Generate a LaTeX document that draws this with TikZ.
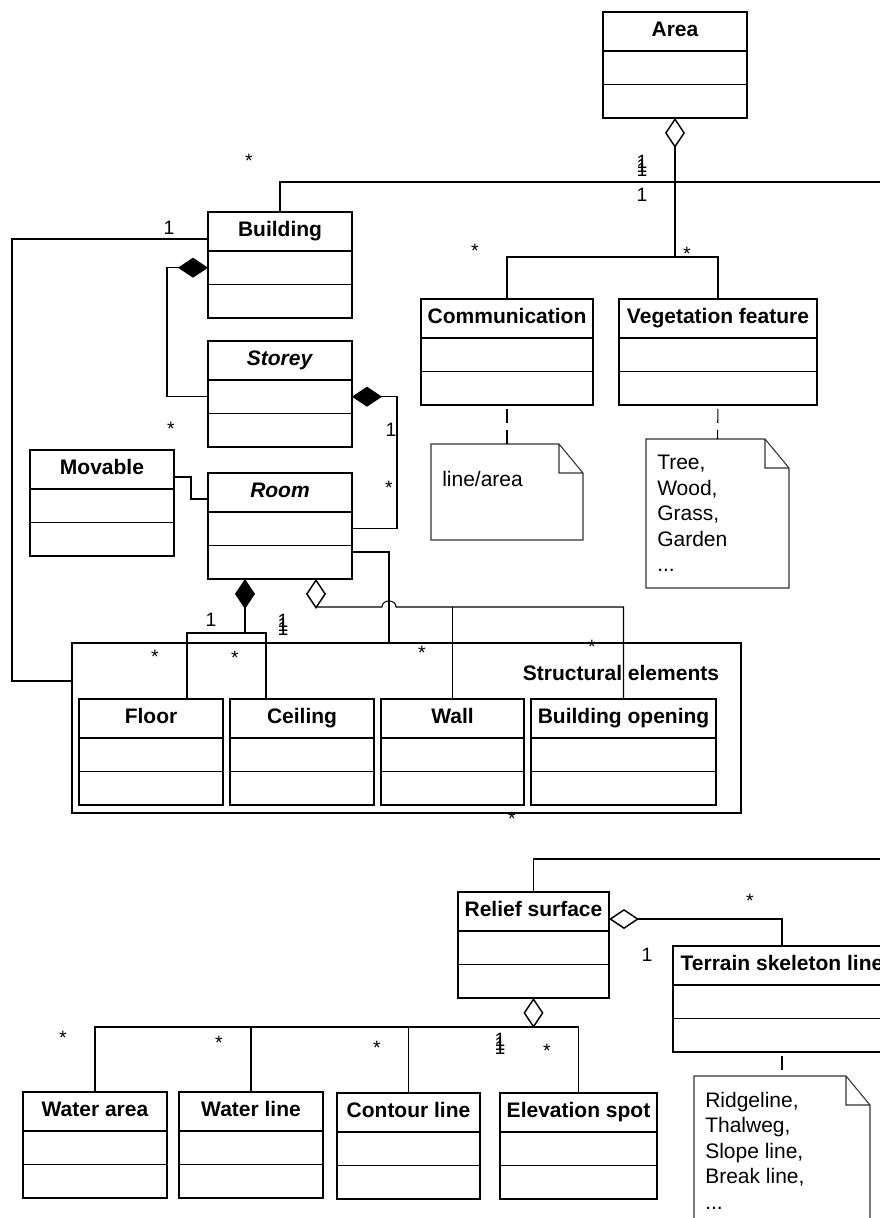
\documentclass[tikz,border=0pt]{standalone}
\usepackage{fontspec}
\setmainfont{Liberation Sans}
\usetikzlibrary{positioning, arrows.meta}

\newcommand{\titlefont}{\fontsize{15.75}{19}\selectfont\bfseries}
\newcommand{\notefont}{\fontsize{15.75}{19.1}\selectfont}
\newcommand{\multfont}{\fontsize{14.5}{17}\selectfont}
% overprinted multiplicity
\newcommand{\manyones}{\rlap{1}\raisebox{3pt}{\rlap{1}}\raisebox{6pt}{1}}

\tikzset{
  clshead/.style={draw, line width=1.4pt, inner sep=0pt, outer sep=0pt,
    minimum height=29.25pt, text height=11.5pt, text depth=3.3pt, font=\titlefont},
  clspart/.style={draw, line width=1.4pt, inner sep=0pt, outer sep=0pt, minimum height=25.1pt},
  pkgbox/.style={draw, line width=1.4pt, inner sep=0pt, outer sep=0pt},
  conn/.style={line width=0.8pt},
  agg/.style={conn, {Diamond[open, length=22.5pt, width=15pt, line width=1.1pt]}-},
  comp/.style={conn, {Diamond[length=22.5pt, width=15pt]}-},
  notelink/.style={conn, dash pattern=on 10.5pt off 5.25pt, dash phase=12.75pt},
  notebody/.style={inner sep=0pt, outer sep=0pt},
  noteline/.style={line width=0.8pt, black!80},
  notetext/.style={inner sep=0pt, align=left, font=\notefont, anchor=north west},
  mult/.style={inner sep=0pt, font=\multfont},
}

% class box: name, top-left corner, width (px), title
\newcommand{\umlclass}[4]{%
  \node[clshead, minimum width=#3*0.75pt, anchor=north west] (#1) at (#2) {#4};
  \node[clspart, minimum width=#3*0.75pt, below=0pt of #1] (#1-a) {};
  \node[clspart, minimum width=#3*0.75pt, below=0pt of #1-a] (#1-o) {};}

% note with folded corner: name, top-left corner, width (px), height (px)
\newcommand{\umlnote}[4]{%
  \node[notebody, minimum width=#3*0.75pt, minimum height=#4*0.75pt, anchor=north west] (#1) at (#2) {};
  \draw[noteline] (#1.north west) -- ([xshift=-18pt]#1.north east) -- ([yshift=-21.75pt]#1.north east)
    -- (#1.south east) -- (#1.south west) -- cycle
    ([xshift=-18pt]#1.north east) |- ([yshift=-21.75pt]#1.north east);}

\begin{document}
\begin{tikzpicture}[x=0.75pt, y=-0.75pt]
\useasboundingbox (0,0) rectangle (880,1218);
\clip (0,0) rectangle (880,1218);

% upper part
\umlclass{area}{603,12}{144}{Area}
\umlclass{bldg}{208,212}{144}{Building}
\umlclass{storey}{208,341}{144}{\textit{Storey}}
\umlclass{mov}{30,450}{144}{Movable}
\umlclass{room}{208,473}{144}{\textit{Room}}
\umlclass{comm}{421,299}{172}{Communication}
\umlclass{veg}{619,299}{198}{Vegetation feature}

\umlnote{cnote}{431,444}{152}{96}
\node[notetext] (cnote-t) at ([xshift=8.25pt, yshift=-20.25pt]cnote.north west) {line/area};
\umlnote{vnote}{646,439}{143}{149}
\node[notetext] (vnote-t) at ([xshift=8.25pt, yshift=-12pt]vnote.north west)
  {Tree,\\Wood,\\Grass,\\Garden\\...};

% structural elements package
\node[pkgbox, minimum width=501.75pt, minimum height=127.5pt, anchor=north west] (pkg) at (72,643) {};
\node[font=\titlefont, inner sep=0pt] (pkg-l) at (621,673) {Structural elements};
\umlclass{floor}{79,699}{144}{Floor}
\umlclass{ceil}{230,699}{144}{Ceiling}
\umlclass{wall}{381,699}{143}{Wall}
\umlclass{bop}{531,699}{185}{Building opening}

% lower part
\umlclass{relief}{458,892}{151}{Relief surface}
\umlclass{terr}{673,946}{218}{Terrain skeleton line}
\umlclass{wa}{23,1092}{144}{Water area}
\umlclass{wl}{179,1092}{144}{Water line}
\umlclass{cl}{337,1093}{143}{Contour line}
\umlclass{es}{500,1093}{157}{Elevation spot}

\umlnote{tnote}{694,1076}{176}{190}
\node[notetext] (tnote-t) at ([xshift=8.25pt, yshift=-12pt]tnote.north west)
  {Ridgeline,\\Thalweg,\\Slope line,\\Break line,\\...};

% connectors
\draw[agg] (area-o.south) -- (area-o.south |- 0,257);
\draw[conn] (comm.north) |- (veg.north |- 0,257) -- (veg.north);
\draw[conn] (bldg.north) |- (900,182);
\draw[conn] (bldg.west |- 0,239) -| (12,681) -- (pkg.west |- 0,681);
\draw[comp] (bldg-a.west) -- ++(-41,0) |- (storey-a.west);
\draw[comp] (storey-a.east) -- ++(45,0) |- (room-a.east);
\draw[conn] (mov.east |- 0,477) -| (191,499) -- (room.west |- 0,499);
\draw[conn] (room-o.east |- 0,552) -| (pkg.north -| 389,0);
\draw[comp] (room-o.south -| 245,0) -- (245,633);
\draw[conn] (floor.north -| 187,0) |- (266,633) -- (ceil.north -| 266,0);
\draw[agg] (room-o.south -| 316,0) -- (316,607) -- (382,607)
  .. controls (382,599) and (396,599) .. (396,607) -- (623.5,607) -- (bop.north);
\draw[conn] (wall.north) -- (wall.north |- 0,607);

\draw[notelink] (comm-o.south) -- (cnote.north);
\draw[notelink] (veg-o.south) -- (vnote.north);
\draw[notelink] (terr-o.south) -- (tnote.north);

\draw[conn] (relief.north) |- (900,859);
\draw[agg] (relief.east |- 0,919) -| (terr.north);
\draw[agg] (relief-o.south) -- (relief-o.south |- 0,1027);
\draw[conn] (wa.north) |- (es.north |- 0,1027) -- (es.north);
\draw[conn] (wl.north) -- (wl.north |- 0,1027);
\draw[conn] (cl.north) -- (cl.north |- 0,1027);

% multiplicities
\node[mult] (m1) at (249,161) {*};
\node[mult] (m2) at (642,166) {\manyones};
\node[mult] (m3) at (642,195) {1};
\node[mult] (m4) at (169,228) {1};
\node[mult] (m5) at (475,251) {*};
\node[mult] (m6) at (687,254) {*};
\node[mult] (m7) at (171,429) {*};
\node[mult] (m8) at (391,430) {1};
\node[mult] (m9) at (389,488) {*};
\node[mult] (m10) at (211,620) {1};
\node[mult] (m11) at (283,625) {\manyones};
\node[mult] (m12) at (155,657) {*};
\node[mult] (m13) at (235,658) {*};
\node[mult] (m14) at (422,653) {*};
\node[mult] (m15) at (592,647) {*};
\node[mult] (m16) at (512,819) {*};
\node[mult] (m17) at (750,901) {*};
\node[mult] (m18) at (647,955) {1};
\node[mult] (m19) at (63,1038) {*};
\node[mult] (m20) at (219,1043) {*};
\node[mult] (m21) at (377,1048) {*};
\node[mult] (m22) at (547,1051) {*};
\node[mult] (m23) at (500,1044) {\manyones};
\end{tikzpicture}
\end{document}
